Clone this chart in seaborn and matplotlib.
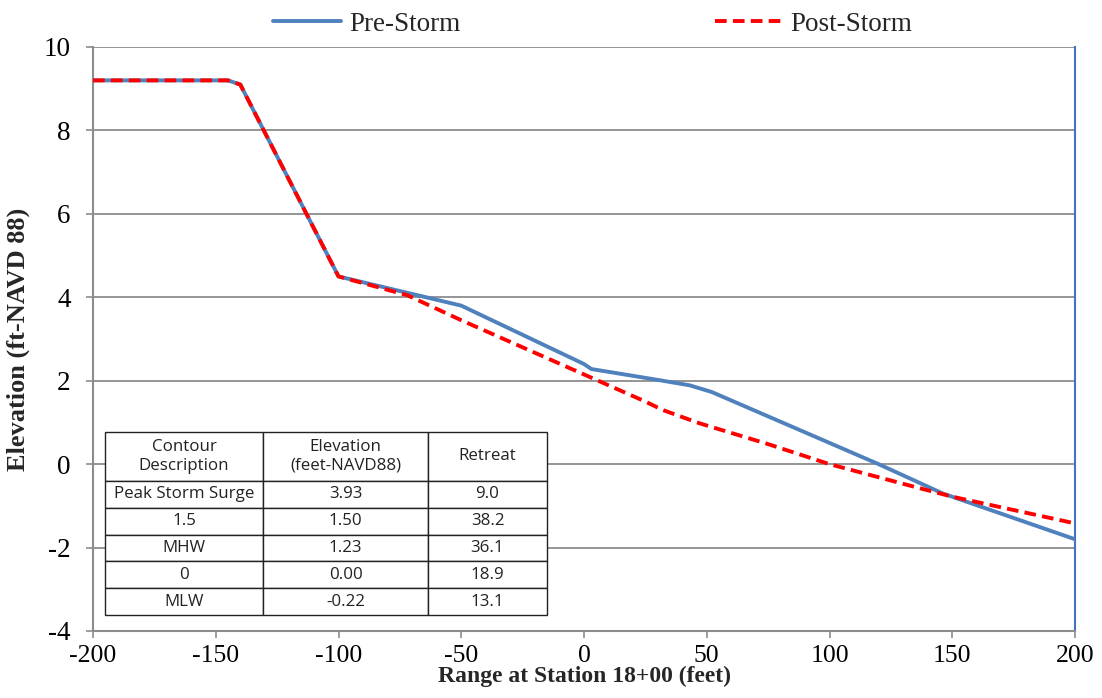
import matplotlib
matplotlib.use("Agg")
import matplotlib.pyplot as plt
import seaborn as sns
import pandas as pd

# Beach profile, range (ft) vs elevation (ft NAVD88)
pre_x = [-200, -145, -140, -100, -50, 0, 3, 30, 43, 52, 120, 146, 200]
pre_y = [9.2, 9.2, 9.1, 4.5, 3.8, 2.4, 2.28, 2.02, 1.89, 1.73, 0.0, -0.7, -1.8]

post_x = [-200, -145, -140, -100, -72, -50, -25, 0, 25, 32, 47, 75, 100, 135, 150, 175, 200]
post_y = [9.2, 9.2, 9.1, 4.5, 4.05, 3.45, 2.8, 2.15, 1.5, 1.3, 0.98, 0.48, 0.0, -0.55, -0.78, -1.1, -1.42]

series_names = ["Pre-Storm", "Post-Storm"]

# Contour retreat summary
table_header = ["Contour\nDescription", "Elevation\n(feet-NAVD88)", "Retreat"]
contour_desc = ["Peak Storm Surge", "1.5", "MHW", "0", "MLW"]
contour_elev = ["3.93", "1.50", "1.23", "0.00", "-0.22"]
contour_retreat = ["9.0", "38.2", "36.1", "18.9", "13.1"]

x_ticks = [-200, -150, -100, -50, 0, 50, 100, 150, 200]
y_ticks = [-4, -2, 0, 2, 4, 6, 8, 10]

sns.set_theme(style="white")
plt.rcParams["font.family"] = ["Liberation Serif", "DejaVu Serif"]

fig = plt.figure(figsize=(11.02, 6.98), dpi=100)
ax = fig.add_axes([93 / 1102, 1 - 631 / 698, 982 / 1102, 584 / 698])

pre_df = pd.DataFrame({"x": pre_x, "y": pre_y})
post_df = pd.DataFrame({"x": post_x, "y": post_y})

sns.lineplot(data=pre_df, x="x", y="y", sort=False, ax=ax, color="#4F81BD",
             linewidth=2.8, label=series_names[0], zorder=3)
sns.lineplot(data=post_df, x="x", y="y", sort=False, ax=ax, color="#FF0000",
             linewidth=2.8, linestyle=(0, (3.0, 1.6)), label=series_names[1], zorder=4)

ax.set_xlim(-200, 200)
ax.set_ylim(-4, 10)
ax.set_xticks(x_ticks)
ax.set_yticks(y_ticks)
ax.set_xticklabels([str(v) for v in x_ticks])
ax.set_yticklabels([str(v) for v in y_ticks])
ax.tick_params(axis="both", labelsize=19.5, colors="black", length=5, width=1.2,
               direction="out", bottom=True, left=True)
ax.tick_params(axis="both", color="#8C8C8C")
ax.tick_params(axis="x", labelsize=18.5, pad=5)
ax.tick_params(axis="y", pad=11)

ax.yaxis.grid(True, color="#8C8C8C", linewidth=1.3)
ax.xaxis.grid(False)

for side in ["left", "bottom"]:
    ax.spines[side].set_color("#8C8C8C")
    ax.spines[side].set_linewidth(1.5)
for side in ["top", "right"]:
    ax.spines[side].set_color("#4472C4")
    ax.spines[side].set_linewidth(1.5)
ax.spines["top"].set_visible(False)

ax.set_xlabel("Range at Station 18+00 (feet)", fontsize=17, fontweight="bold", labelpad=-1)
ax.set_ylabel("Elevation (ft-NAVD 88)", fontsize=19, fontweight="bold", labelpad=10)

ax.get_legend().remove()
handles, labels = ax.get_legend_handles_labels()
fig.legend(handles, labels, loc="upper center", bbox_to_anchor=(0.538, 1.018), ncol=2,
           frameon=False, fontsize=19.5, handlelength=2.5, handletextpad=0.3,
           columnspacing=9.4)

# Summary table inside the plot area
cell_text = [table_header] + [list(r) for r in zip(contour_desc, contour_elev, contour_retreat)]
tbl = ax.table(cellText=cell_text, cellLoc="center",
               bbox=[12 / 982, 16 / 584, 442 / 982, 183 / 584], zorder=5)
tbl.auto_set_font_size(False)
col_w = [158, 165, 119]
for (r, c), cell in tbl.get_celld().items():
    cell.set_width(col_w[c] / 982)
    cell.set_height((49.0 if r == 0 else 26.8) / 584)
    cell.set_edgecolor("#222222")
    cell.set_linewidth(1.0)
    cell.set_facecolor("white")
    cell.get_text().set_fontsize(12.2)
    cell.get_text().set_fontfamily(["Open Sans", "DejaVu Sans"])
    cell.get_text().set_color("#222222")
    cell.get_text().set_linespacing(1.25)

fig.savefig("out.png", dpi=100)
